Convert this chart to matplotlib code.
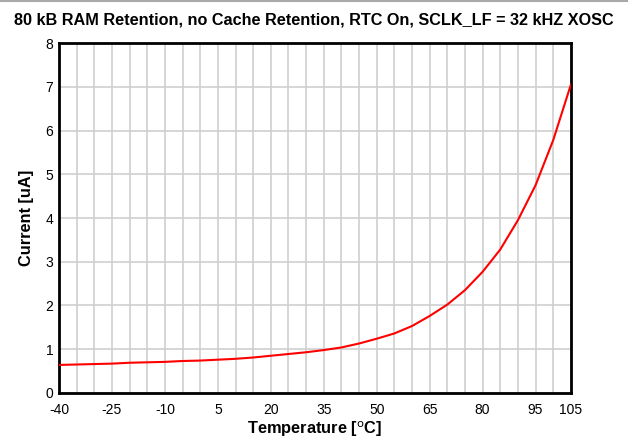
import numpy as np
import matplotlib.pyplot as plt
from matplotlib.lines import Line2D

plt.rcParams['font.family'] = ['Liberation Sans', 'DejaVu Sans']
plt.rcParams['axes.unicode_minus'] = False

# Temperature [C] and current [uA]
temperature = [-40, -35, -30, -25, -20, -15, -10, -5, 0, 5, 10, 15, 20, 25, 30,
               35, 40, 45, 50, 55, 60, 65, 70, 75, 80, 85, 90, 95, 100, 105]
current = [0.64, 0.65, 0.66, 0.67, 0.69, 0.70, 0.71, 0.73, 0.74, 0.76, 0.78, 0.81,
           0.85, 0.89, 0.93, 0.98, 1.04, 1.13, 1.24, 1.36, 1.53, 1.76, 2.02, 2.35,
           2.77, 3.28, 3.95, 4.75, 5.78, 7.05]
x_ticks = [-40, -25, -10, 5, 20, 35, 50, 65, 80, 95, 105]
y_ticks = [0, 1, 2, 3, 4, 5, 6, 7, 8]

fig = plt.figure(figsize=(6.28, 4.4), dpi=100)
ax = fig.add_axes([0.094, 0.107, 0.815, 0.795])

ax.plot(temperature, current, color='red', linewidth=1.5, zorder=3)

ax.set_xlim(-40, 105)
ax.set_ylim(0, 8)
ax.set_xticks(x_ticks)
ax.set_yticks(y_ticks)
ax.set_xticks(np.arange(-40, 106, 5), minor=True)
ax.grid(True, which='both', axis='x', color='#cfcfcf', linewidth=1.2)
ax.grid(True, which='major', axis='y', color='#cfcfcf', linewidth=1.2)
ax.tick_params(which='both', length=0, labelsize=10, pad=4)
ax.tick_params(axis='x', pad=7)

for s in ax.spines.values():
    s.set_linewidth(2)
    s.set_color('black')

ax.set_xlabel('Temperature [$^{\\mathrm{o}}$C]', fontsize=11.8, fontweight='bold', labelpad=2)
ax.set_ylabel('Current [uA]', fontsize=11.8, fontweight='bold', labelpad=8)
fig.text(0.5, 0.955, '80 kB RAM Retention, no Cache Retention, RTC On, SCLK_LF = 32 kHZ XOSC',
         ha='center', va='center', fontsize=11.7, fontweight='bold')

# thin gray border along the top edge
fig.add_artist(Line2D([0, 1], [0.998, 0.998], transform=fig.transFigure,
                      color='#a8a8a8', linewidth=1.5))

fig.savefig('out.png', dpi=100)
